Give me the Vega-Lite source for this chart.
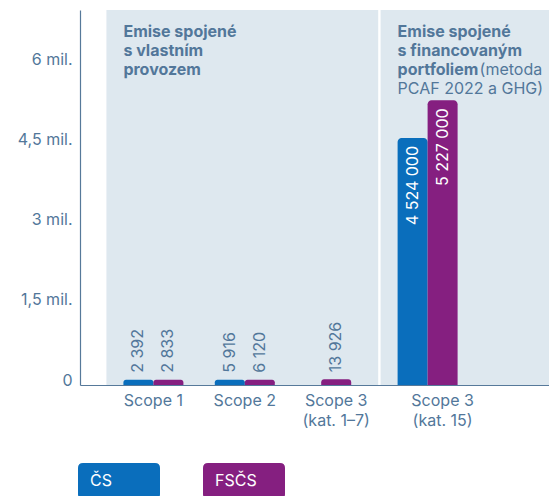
{
  "$schema": "https://vega.github.io/schema/vega-lite/v6.json",
  "width": 469,
  "height": 375,
  "autosize": {"type": "none"},
  "padding": {"left": 80, "top": 10, "right": 0, "bottom": 111},
  "datasets": {
    "emise": [
      {"cat": "Scope 1", "series": "ČS", "value": 2392},
      {"cat": "Scope 1", "series": "FSČS", "value": 2833},
      {"cat": "Scope 2", "series": "ČS", "value": 5916},
      {"cat": "Scope 2", "series": "FSČS", "value": 6120},
      {"cat": "Scope 3 (kat. 1–7)", "series": "FSČS", "value": 13926},
      {"cat": "Scope 3 (kat. 15)", "series": "ČS", "value": 4524000},
      {"cat": "Scope 3 (kat. 15)", "series": "FSČS", "value": 5227000}
    ],
    "panely": [
      {"start": "Scope 1", "end": "Scope 3 (kat. 1–7)"},
      {"start": "Scope 3 (kat. 15)", "end": ""}
    ],
    "nadpisyTucne": [
      {"cat": "Scope 1", "text": "Emise spojené\ns vlastním\nprovozem"},
      {"cat": "Scope 3 (kat. 15)", "text": "Emise spojené\ns financovaným\nportfoliem"}
    ],
    "nadpisMetoda": [{"cat": "Scope 3 (kat. 15)", "text": "(metoda"}],
    "nadpisPcaf": [{"cat": "Scope 3 (kat. 15)", "text": "PCAF 2022 a GHG)"}]
  },
  "layer": [
    {
      "data": {"name": "panely"},
      "mark": {"type": "rect", "color": "#dee8ef", "xOffset": -47, "x2Offset": 42, "clip": true},
      "encoding": {
        "x": {"field": "start", "type": "nominal",
          "scale": {"type": "band", "domain": ["Scope 1", "Scope 2", "Scope 3 (kat. 1–7)", "Scope 3 (kat. 15)", ""], "paddingInner": 0.3435, "paddingOuter": 0.2375, "align": 1},
          "axis": {"title": null, "ticks": false, "domainColor": "#56799a", "domainWidth": 1.2, "labelColor": "#52779a", "labelFontSize": 16, "labelPadding": 7, "labelLineHeight": 20, "labelAngle": 0,
            "labelExpr": "indexof(datum.label, ' (') > 0 ? [slice(datum.label, 0, indexof(datum.label, ' (')), slice(datum.label, indexof(datum.label, ' (') + 1)] : datum.label",
            "labelOffset": {"condition": {"test": "datum.value == 'Scope 3 (kat. 15)'", "value": 15}, "value": 0}}},
        "x2": {"field": "end"}
      }
    },
    {
      "data": {"name": "emise"},
      "transform": [{"filter": "datum.cat != 'Scope 3 (kat. 1–7)'"}],
      "mark": {"type": "bar", "cornerRadiusTopLeft": 4, "cornerRadiusTopRight": 4},
      "encoding": {
        "x": {"field": "cat", "type": "nominal",
          "scale": {"type": "band", "domain": ["Scope 1", "Scope 2", "Scope 3 (kat. 1–7)", "Scope 3 (kat. 15)", ""], "paddingInner": 0.3435, "paddingOuter": 0.2375, "align": 1}},
        "xOffset": {"field": "series", "type": "nominal", "scale": {"domain": ["ČS", "FSČS"], "paddingInner": 0, "paddingOuter": 0}},
        "y": {"field": "value", "type": "quantitative",
          "scale": {"domain": [-93458, 6916000], "nice": false, "zero": false},
          "axis": {"title": null, "values": [0, 1500000, 3000000, 4500000, 6000000], "ticks": false, "grid": false, "domainColor": "#56799a", "domainWidth": 1.2, "labelColor": "#52779a", "labelFontSize": 16, "labelPadding": 8,
            "labelExpr": "datum.value == 0 ? '0' : replace(format(datum.value / 1000000, '.1~f'), '.', ',') + ' mil.'"}},
        "y2": {"datum": -93458},
        "color": {"field": "series", "type": "nominal",
          "scale": {"domain": ["ČS", "FSČS"], "range": ["#0a6ebc", "#851f80"]},
          "legend": {"orient": "none", "legendX": -2, "legendY": 430, "direction": "horizontal", "title": null,
            "symbolType": "M-0.878,-0.439 L0.878,-0.439 Q1,-0.439 1,-0.317 L1,0.317 Q1,0.439 0.878,0.439 L-0.878,0.439 Q-1,0.439 -1,0.317 L-1,-0.317 Q-1,-0.439 -0.878,-0.439 Z",
            "symbolSize": 6724, "symbolStrokeWidth": 0, "symbolOpacity": 1, "labelOffset": -70, "labelColor": "#ffffff", "labelFontSize": 16, "columnPadding": 43, "padding": 0}}
      }
    },
    {
      "data": {"name": "emise"},
      "transform": [{"filter": "datum.cat == 'Scope 3 (kat. 1–7)'"}],
      "mark": {"type": "bar", "cornerRadiusTopLeft": 4, "cornerRadiusTopRight": 4, "width": {"band": 0.5}},
      "encoding": {
        "x": {"field": "cat", "type": "nominal",
          "scale": {"type": "band", "domain": ["Scope 1", "Scope 2", "Scope 3 (kat. 1–7)", "Scope 3 (kat. 15)", ""], "paddingInner": 0.3435, "paddingOuter": 0.2375, "align": 1}},
        "y": {"field": "value", "type": "quantitative"},
        "y2": {"datum": -93458},
        "color": {"field": "series", "type": "nominal"}
      }
    },
    {
      "data": {"name": "emise"},
      "transform": [{"filter": "datum.cat != 'Scope 3 (kat. 1–7)' && datum.value < 1000000"}],
      "mark": {"type": "text", "angle": 270, "align": "left", "baseline": "middle", "dx": 7, "fontSize": 16, "color": "#52779a"},
      "encoding": {
        "x": {"field": "cat", "type": "nominal",
          "scale": {"type": "band", "domain": ["Scope 1", "Scope 2", "Scope 3 (kat. 1–7)", "Scope 3 (kat. 15)", ""], "paddingInner": 0.3435, "paddingOuter": 0.2375, "align": 1}},
        "xOffset": {"field": "series", "type": "nominal"},
        "y": {"field": "value", "type": "quantitative"},
        "text": {"field": "value", "type": "quantitative", "format": ","}
      }
    },
    {
      "data": {"name": "emise"},
      "transform": [{"filter": "datum.cat == 'Scope 3 (kat. 1–7)'"}],
      "mark": {"type": "text", "angle": 270, "align": "left", "baseline": "middle", "dx": 7, "fontSize": 16, "color": "#52779a"},
      "encoding": {
        "x": {"field": "cat", "type": "nominal",
          "scale": {"type": "band", "domain": ["Scope 1", "Scope 2", "Scope 3 (kat. 1–7)", "Scope 3 (kat. 15)", ""], "paddingInner": 0.3435, "paddingOuter": 0.2375, "align": 1}},
        "y": {"field": "value", "type": "quantitative"},
        "text": {"field": "value", "type": "quantitative", "format": ","}
      }
    },
    {
      "data": {"name": "emise"},
      "transform": [{"filter": "datum.value >= 1000000"}],
      "mark": {"type": "text", "angle": 270, "align": "right", "baseline": "middle", "dx": -8, "fontSize": 16, "color": "#ffffff"},
      "encoding": {
        "x": {"field": "cat", "type": "nominal",
          "scale": {"type": "band", "domain": ["Scope 1", "Scope 2", "Scope 3 (kat. 1–7)", "Scope 3 (kat. 15)", ""], "paddingInner": 0.3435, "paddingOuter": 0.2375, "align": 1}},
        "xOffset": {"field": "series", "type": "nominal"},
        "y": {"field": "value", "type": "quantitative"},
        "text": {"field": "value", "type": "quantitative", "format": ","}
      }
    },
    {
      "data": {"name": "nadpisyTucne"},
      "mark": {"type": "text", "align": "left", "baseline": "alphabetic", "fontSize": 16, "fontWeight": "bold", "color": "#52779a", "lineBreak": "\n", "lineHeight": 19, "yOffset": 27},
      "encoding": {
        "x": {"field": "cat", "type": "nominal", "bandPosition": 0,
          "scale": {"type": "band", "domain": ["Scope 1", "Scope 2", "Scope 3 (kat. 1–7)", "Scope 3 (kat. 15)", ""], "paddingInner": 0.3435, "paddingOuter": 0.2375, "align": 1}},
        "y": {"datum": 6916000, "type": "quantitative"},
        "text": {"field": "text", "type": "nominal"}
      }
    },
    {
      "data": {"name": "nadpisMetoda"},
      "mark": {"type": "text", "align": "left", "baseline": "alphabetic", "fontSize": 16, "color": "#52779a", "yOffset": 65, "xOffset": 82},
      "encoding": {
        "x": {"field": "cat", "type": "nominal", "bandPosition": 0,
          "scale": {"type": "band", "domain": ["Scope 1", "Scope 2", "Scope 3 (kat. 1–7)", "Scope 3 (kat. 15)", ""], "paddingInner": 0.3435, "paddingOuter": 0.2375, "align": 1}},
        "y": {"datum": 6916000, "type": "quantitative"},
        "text": {"field": "text", "type": "nominal"}
      }
    },
    {
      "data": {"name": "nadpisPcaf"},
      "mark": {"type": "text", "align": "left", "baseline": "alphabetic", "fontSize": 16, "color": "#52779a", "yOffset": 84},
      "encoding": {
        "x": {"field": "cat", "type": "nominal", "bandPosition": 0,
          "scale": {"type": "band", "domain": ["Scope 1", "Scope 2", "Scope 3 (kat. 1–7)", "Scope 3 (kat. 15)", ""], "paddingInner": 0.3435, "paddingOuter": 0.2375, "align": 1}},
        "y": {"datum": 6916000, "type": "quantitative"},
        "text": {"field": "text", "type": "nominal"}
      }
    }
  ],
  "config": {
    "font": "Inter",
    "view": {"stroke": null},
    "locale": {"number": {"decimal": ",", "thousands": " ", "grouping": [3], "currency": ["", " Kč"]}},
    "axis": {"labelFont": "Inter"},
    "legend": {"labelFont": "Inter"}
  }
}
